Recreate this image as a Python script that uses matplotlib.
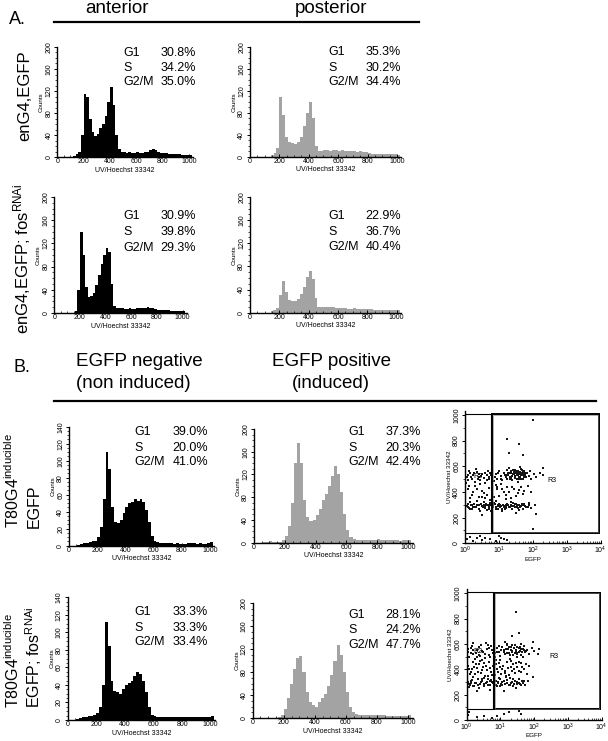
import numpy as np
import matplotlib
matplotlib.use("Agg")
import matplotlib.pyplot as plt
from matplotlib.ticker import MultipleLocator, LogLocator, NullFormatter
from matplotlib.patches import Rectangle
from matplotlib.lines import Line2D

plt.rcParams['font.family'] = ['Liberation Sans', 'DejaVu Sans']
plt.rcParams['mathtext.fontset'] = 'custom'
plt.rcParams['mathtext.rm'] = 'Liberation Sans'
plt.rcParams['mathtext.it'] = 'Liberation Sans:italic'
plt.rcParams['mathtext.bf'] = 'Liberation Sans:bold'

W, H = 608, 741
BIN = 20  # histogram channel width (UV/Hoechst units)

# ---- histogram counts, 20-channel bins starting at 0 ----
ant_egfp = [0, 0, 0, 0, 0, 0, 2, 6, 10, 40,
            115, 110, 70, 45, 38, 42, 52, 60, 75, 100,
            128, 95, 40, 14, 10, 9, 8, 9, 8, 8,
            9, 8, 8, 9, 10, 12, 14, 12, 10, 8,
            7, 7, 6, 6, 5, 5, 5, 4, 4, 4,
            3, 0]
post_egfp = [0, 0, 0, 0, 0, 0, 0, 4, 6, 15,
             108, 75, 35, 27, 25, 24, 26, 35, 55, 80,
             100, 70, 20, 10, 10, 12, 12, 11, 12, 12,
             11, 12, 11, 10, 10, 10, 9, 10, 9, 8,
             6, 5, 5, 5, 5, 5, 5, 5, 5, 5,
             4, 0]
ant_fos = [0, 0, 0, 0, 0, 0, 0, 0, 3, 40,
           140, 100, 45, 28, 30, 35, 48, 65, 85, 100,
           112, 105, 50, 12, 9, 8, 8, 7, 7, 8,
           7, 7, 8, 8, 8, 9, 10, 9, 8, 7,
           6, 6, 5, 5, 5, 4, 4, 4, 4, 4,
           3, 0]
post_fos = [0, 0, 0, 0, 0, 0, 0, 3, 4, 8,
            30, 54, 35, 22, 20, 20, 24, 32, 45, 62,
            72, 58, 25, 10, 9, 9, 9, 9, 9, 8,
            8, 8, 8, 7, 7, 8, 7, 7, 7, 6,
            6, 6, 5, 5, 5, 5, 5, 5, 5, 5,
            4, 0]
t80_neg = [0, 0, 0, 1, 2, 3, 3, 4, 5, 6,
           10, 22, 55, 110, 90, 45, 28, 27, 30, 38,
           45, 50, 52, 55, 53, 55, 52, 42, 28, 12,
           5, 4, 3, 3, 3, 3, 3, 2, 3, 2,
           2, 2, 3, 3, 3, 2, 3, 2, 2, 3,
           4, 0]
t80_pos = [0, 0, 0, 1, 2, 3, 1, 1, 2, 5,
           12, 30, 70, 140, 175, 140, 75, 45, 38, 40,
           48, 60, 75, 85, 100, 118, 135, 120, 90, 50,
           22, 10, 6, 5, 5, 4, 5, 4, 4, 5,
           6, 4, 4, 4, 4, 4, 4, 3, 4, 4,
           4, 0]
t80fos_neg = [0, 0, 0, 1, 2, 3, 3, 4, 4, 6,
              8, 15, 40, 112, 85, 45, 33, 32, 30, 35,
              40, 42, 45, 50, 55, 52, 45, 32, 15, 6,
              4, 3, 3, 3, 3, 3, 3, 3, 3, 3,
              3, 3, 3, 3, 3, 3, 3, 3, 3, 3,
              5, 0]
t80fos_pos = [0, 0, 0, 0, 0, 0, 0, 0, 2, 6,
              15, 35, 60, 85, 105, 108, 80, 45, 28, 22,
              20, 28, 35, 42, 55, 75, 100, 127, 110, 80,
              45, 20, 10, 7, 6, 6, 6, 5, 5, 5,
              5, 5, 5, 4, 4, 4, 4, 4, 4, 4,
              5, 0]

# ---- cell-cycle percentages ----
phases = ['G1', 'S', 'G2/M']
pct_ant_egfp = ['30.8%', '34.2%', '35.0%']
pct_post_egfp = ['35.3%', '30.2%', '34.4%']
pct_ant_fos = ['30.9%', '39.8%', '29.3%']
pct_post_fos = ['22.9%', '36.7%', '40.4%']
pct_t80_neg = ['39.0%', '20.0%', '41.0%']
pct_t80_pos = ['37.3%', '20.3%', '42.4%']
pct_t80fos_neg = ['33.3%', '33.3%', '33.4%']
pct_t80fos_pos = ['28.1%', '24.2%', '47.7%']

# ---- dot plots: (log10 EGFP, UV/Hoechst) ----
dots_t80 = [
    # G1 band
    (0.05, 290), (0.12, 275), (0.18, 300), (0.22, 265), (0.28, 310), (0.33, 285), (0.38, 295),
    (0.42, 270), (0.47, 305), (0.52, 280), (0.55, 320), (0.6, 290), (0.64, 262), (0.68, 300),
    (0.72, 285), (0.75, 315), (0.8, 275), (0.84, 295), (0.88, 305), (0.92, 270), (0.96, 290),
    (1.0, 310), (1.04, 280), (1.08, 265), (1.12, 300), (1.16, 288), (1.2, 275), (1.24, 310),
    (1.28, 295), (1.32, 280), (1.36, 300), (1.4, 270), (1.44, 290), (1.48, 305), (1.52, 285),
    (1.56, 275), (1.6, 300), (1.65, 290), (1.7, 270), (1.75, 310), (1.8, 285), (1.88, 295),
    (1.95, 275), (2.05, 300), (0.15, 320), (0.45, 255), (0.9, 330), (1.35, 325), (1.1, 250),
    (0.25, 285), (0.62, 310), (0.98, 265), (1.42, 315), (1.58, 260), (1.72, 295), (0.35, 330),
    (0.08, 305), (0.78, 255), (1.22, 292), (1.9, 315),
    (0.1, 285), (0.2, 295), (0.3, 280), (0.4, 300), (0.5, 290), (0.58, 275), (0.66, 295),
    (0.74, 300), (0.82, 285), (0.9, 280), (0.98, 300), (1.06, 290), (1.14, 280), (1.22, 300),
    (1.3, 285), (1.38, 290), (1.46, 280), (1.54, 295), (1.62, 285), (1.68, 305), (1.78, 290),
    (1.85, 280), (0.15, 270), (0.55, 300), (0.85, 315), (1.18, 270), (1.5, 310), (0.36, 300),
    (0.7, 270), (1.02, 295),
    # G2/M band
    (0.05, 520), (0.1, 490), (0.15, 545), (0.2, 505), (0.25, 530), (0.3, 480), (0.35, 555),
    (0.4, 515), (0.45, 495), (0.5, 540), (0.55, 510), (0.6, 470), (0.65, 530), (0.7, 500),
    (0.75, 550), (0.8, 520), (0.85, 485), (0.9, 540), (0.95, 505), (1.0, 560), (1.05, 525),
    (1.1, 495), (1.15, 545), (1.2, 515), (1.25, 570), (1.28, 535), (1.32, 505), (1.35, 550),
    (1.38, 525), (1.42, 575), (1.45, 540), (1.48, 510), (1.5, 555), (1.53, 530), (1.56, 565),
    (1.58, 500), (1.6, 545), (1.63, 520), (1.65, 580), (1.68, 550), (1.7, 530), (1.72, 505),
    (1.75, 560), (1.78, 540), (1.8, 515), (1.84, 550), (1.88, 525), (1.92, 560), (1.96, 500),
    (2.02, 540), (2.1, 520), (2.2, 545), (2.3, 530), (1.4, 490), (1.55, 480), (1.3, 585),
    (1.62, 595), (0.02, 470), (0.32, 580), (0.68, 565),
    (1.22, 530), (1.27, 550), (1.33, 520), (1.37, 565), (1.41, 540), (1.44, 555), (1.47, 525),
    (1.51, 545), (1.54, 560), (1.57, 535), (1.61, 555), (1.64, 530), (1.67, 545), (1.71, 560),
    (1.74, 520), (1.77, 550), (1.3, 545), (1.46, 570), (1.59, 515), (1.69, 575), (1.36, 510),
    (1.52, 500), (1.62, 540), (1.76, 530), (1.82, 545), (1.25, 500), (1.4, 525), (1.55, 550),
    (1.66, 505), (1.73, 545),
    (0.08, 535), (0.18, 515), (0.27, 550), (0.38, 500), (0.48, 525), (0.58, 545), (0.66, 495),
    (0.77, 535), (0.87, 515), (0.97, 550), (1.07, 505), (1.17, 530), (0.12, 560), (0.42, 540),
    (0.72, 520),
    # S phase / between
    (0.1, 420), (0.2, 380), (0.3, 445), (0.4, 360), (0.5, 410), (0.6, 350), (0.7, 430),
    (0.8, 390), (0.9, 455), (1.0, 370), (1.1, 420), (1.2, 345), (1.3, 400), (1.4, 440),
    (1.5, 365), (1.6, 415), (1.7, 385), (1.85, 450), (1.95, 400), (0.15, 350), (0.45, 465),
    (0.75, 340), (1.05, 460), (1.35, 355), (0.55, 390), (0.95, 425), (1.25, 440), (1.55, 395),
    (0.85, 360), (0.25, 400),
    (0.12, 450), (0.35, 420), (0.65, 380), (0.95, 440), (1.15, 400), (1.45, 420), (1.65, 440),
    (1.75, 410), (0.5, 360), (1.2, 380),
    # outliers and debris
    (2.0, 960), (1.25, 810), (1.6, 775), (1.3, 700), (1.7, 690), (2.3, 585), (2.1, 230),
    (0.5, 220), (1.5, 235),
    (0.05, 30), (0.15, 50), (0.25, 20), (0.35, 40), (0.5, 25), (0.6, 45), (0.75, 35),
    (0.9, 20), (1.05, 40), (1.15, 30), (1.25, 25), (0.45, 55), (1.0, 55), (2.0, 110),
]
dots_t80fos = [
    # G1 band
    (0.03, 300), (0.1, 280), (0.16, 315), (0.22, 270), (0.28, 295), (0.34, 325), (0.4, 285),
    (0.46, 305), (0.52, 265), (0.58, 290), (0.64, 320), (0.7, 280), (0.76, 300), (0.82, 270),
    (0.88, 310), (0.94, 290), (1.0, 265), (1.06, 300), (1.12, 285), (1.18, 315), (1.24, 275),
    (1.3, 295), (1.36, 265), (1.42, 305), (1.48, 285), (1.54, 320), (1.6, 275), (1.66, 295),
    (1.74, 280), (1.82, 305), (0.2, 340), (0.5, 330), (0.8, 250), (1.15, 340), (1.45, 255),
    (0.07, 260), (0.37, 255), (0.95, 335), (1.27, 330), (1.7, 310), (0.6, 300), (0.13, 290),
    (1.05, 280), (1.55, 290), (0.72, 315),
    (0.06, 285), (0.14, 305), (0.24, 290), (0.32, 275), (0.42, 300), (0.5, 285), (0.62, 280),
    (0.68, 305), (0.78, 290), (0.86, 280), (0.92, 300), (1.02, 285), (1.1, 305), (1.2, 290),
    (1.28, 280), (1.34, 300), (1.4, 285), (1.5, 300), (1.58, 285), (1.64, 310), (0.45, 320),
    (0.98, 320), (1.38, 320), (0.2, 265), (0.9, 265),
    # G2/M band
    (0.03, 540), (0.08, 500), (0.14, 570), (0.2, 520), (0.25, 480), (0.3, 555), (0.36, 510),
    (0.42, 590), (0.48, 535), (0.54, 490), (0.6, 560), (0.66, 515), (0.72, 585), (0.78, 530),
    (0.84, 495), (0.9, 565), (0.96, 540), (1.0, 505), (1.05, 580), (1.1, 550), (1.14, 520),
    (1.18, 600), (1.22, 560), (1.26, 530), (1.3, 575), (1.34, 545), (1.38, 510), (1.42, 590),
    (1.46, 555), (1.5, 530), (1.54, 570), (1.58, 545), (1.62, 515), (1.66, 560), (1.7, 585),
    (1.74, 535), (1.8, 555), (1.86, 520), (1.92, 570), (0.18, 605), (0.58, 610), (1.12, 615),
    (1.6, 600), (0.45, 470), (0.88, 475), (1.28, 480), (1.48, 495), (1.68, 500), (2.0, 545),
    (2.1, 520),
    (1.1, 540), (1.15, 560), (1.2, 530), (1.25, 575), (1.3, 550), (1.35, 535), (1.4, 565),
    (1.45, 545), (1.5, 580), (1.55, 540), (1.6, 560), (1.65, 535), (1.7, 555), (1.75, 545),
    (1.2, 590), (1.35, 595), (1.5, 520), (1.28, 515), (1.42, 525), (1.58, 575),
    (0.05, 560), (0.12, 525), (0.2, 550), (0.28, 530), (0.35, 575), (0.45, 545), (0.55, 520),
    (0.65, 570), (0.75, 550), (0.85, 525), (0.95, 585), (1.02, 555), (0.4, 505), (0.7, 500),
    (0.15, 585), (0.3, 500), (0.62, 595), (0.9, 540),
    # S phase / between
    (0.05, 430), (0.12, 380), (0.18, 455), (0.24, 360), (0.3, 410), (0.36, 445), (0.42, 370),
    (0.48, 420), (0.54, 350), (0.6, 395), (0.66, 460), (0.72, 375), (0.78, 430), (0.84, 355),
    (0.9, 405), (0.96, 450), (1.02, 365), (1.08, 425), (1.14, 390), (1.2, 460), (1.26, 355),
    (1.32, 415), (1.38, 440), (1.44, 370), (1.5, 420), (1.56, 385), (1.62, 450), (1.7, 400),
    (1.78, 360), (1.85, 430), (0.15, 400), (0.39, 465), (0.63, 345), (0.93, 375), (1.17, 345),
    (1.41, 400), (0.27, 440), (0.81, 460), (1.05, 400), (1.65, 420),
    (0.08, 400), (0.22, 420), (0.33, 380), (0.45, 395), (0.57, 430), (0.7, 410), (0.87, 440),
    (1.0, 420), (1.12, 370), (1.23, 410), (1.35, 385), (1.47, 450), (1.6, 380), (1.75, 440),
    (0.1, 360), (0.5, 450), (0.98, 470), (1.3, 465), (0.75, 355), (1.55, 460),
    # outliers and debris
    (1.45, 850), (1.55, 690), (1.35, 660), (1.95, 615), (2.15, 560), (1.95, 340), (0.3, 225),
    (1.1, 230), (0.7, 240),
    (0.03, 40), (0.08, 60), (0.3, 20), (0.5, 35), (0.9, 30), (1.1, 45), (1.25, 60),
    (0.75, 15), (1.55, 70), (1.6, 45),
]

BLACK = '#000000'
GRAY = '#a3a3a3'

fig = plt.figure(figsize=(W / 100, H / 100), dpi=100)


def rect_from_px(xa, xb, pxa, pxb, ya, yb, pya, pyb, xlim, ylim, xlog=False):
    f = np.log10 if xlog else (lambda v: v)
    sx = (pxb - pxa) / (f(xb) - f(xa))
    left = pxa + (f(xlim[0]) - f(xa)) * sx
    right = pxa + (f(xlim[1]) - f(xa)) * sx
    sy = (pyb - pya) / (yb - ya)
    top = pya + (ylim[1] - ya) * sy
    bottom = pya + (ylim[0] - ya) * sy
    return [left / W, 1 - bottom / H, (right - left) / W, (bottom - top) / H]


def style_axes(ax):
    for s in ['top', 'right']:
        ax.spines[s].set_visible(False)
    for s in ['left', 'bottom']:
        ax.spines[s].set_linewidth(1.0)
    ax.tick_params(axis='both', which='major', labelsize=5, width=0.7, length=2.5, pad=1)
    ax.tick_params(axis='both', which='minor', width=0.5, length=1.3)
    ax.tick_params(axis='x', which='both', direction='in')
    ax.tick_params(axis='y', which='both', direction='out')
    for lab in ax.get_yticklabels():
        lab.set_rotation(90)
        lab.set_va('center')


def hist_panel(counts, color, px, ymax, ystep, yminor, pcts, stat_px):
    x0, x1000, y0, ytop = px
    ax = fig.add_axes(rect_from_px(0, 1000, x0, x1000, 0, ymax, y0, ytop,
                                   (0, 1030), (0, ymax)))
    edges = np.arange(len(counts) + 1) * BIN
    ax.stairs(counts, edges, fill=True, color=color, lw=0)
    ax.set_xlim(0, 1030)
    ax.set_ylim(0, ymax)
    ax.set_xticks(range(0, 1001, 200))
    ax.xaxis.set_minor_locator(MultipleLocator(50))
    ax.set_yticks(range(0, ymax + 1, ystep))
    ax.yaxis.set_minor_locator(MultipleLocator(yminor))
    ax.set_xlabel('UV/Hoechst 33342', fontsize=5, labelpad=1)
    ax.set_ylabel('Counts', fontsize=4.5, labelpad=1)
    style_axes(ax)
    lx, rx, rows = stat_px
    for ph, pc, yy in zip(phases, pcts, rows):
        fig.text(lx / W, 1 - yy / H, ph, fontsize=9, ha='left', va='center')
        fig.text(rx / W, 1 - yy / H, pc, fontsize=9, ha='right', va='center')
    return ax


def dot_panel(dots, px, r2_lab, r3_lab):
    xe0, xe4, y0, y1000 = px
    ax = fig.add_axes(rect_from_px(1, 1e4, xe0, xe4, 0, 1000, y0, y1000,
                                   (1, 1e4), (0, 1030), xlog=True))
    lx = np.array([d[0] for d in dots])
    hy = np.array([d[1] for d in dots])
    ax.scatter(10 ** lx, hy, s=0.7, marker='s', color='#151515', linewidths=0)
    ax.set_xscale('log')
    ax.set_xlim(1, 1e4)
    ax.set_ylim(0, 1030)
    ax.set_xticks([1, 10, 100, 1000, 10000])
    ax.set_xticklabels([r'$10^{0}$', r'$10^{1}$', r'$10^{2}$', r'$10^{3}$', r'$10^{4}$'])
    ax.xaxis.set_minor_locator(LogLocator(base=10, subs=np.arange(2, 10)))
    ax.xaxis.set_minor_formatter(NullFormatter())
    ax.set_yticks(range(0, 1001, 200))
    ax.yaxis.set_minor_locator(MultipleLocator(100))
    ax.set_xlabel('EGFP', fontsize=4.5, labelpad=0.5)
    ax.set_ylabel('UV/Hoechst 33342', fontsize=4.5, labelpad=1)
    style_axes(ax)
    # gates
    ax.add_patch(Rectangle((1, 83), 6.0 - 1, 1008 - 83, fill=False, ec='black', lw=0.8))
    ax.add_patch(Rectangle((6.3, 83), 9000 - 6.3, 1005 - 83, fill=False, ec='black', lw=1.4))
    ax.add_patch(Rectangle((6.8, 90), 8500 - 6.8, 1000 - 90, fill=False, ec='#777777', lw=0.4))
    ax.text(10 ** r2_lab[0], r2_lab[1], 'R2', fontsize=5, ha='center', va='center')
    ax.text(10 ** r3_lab[0], r3_lab[1], 'R3', fontsize=5, ha='center', va='center')
    return ax


# ---- panel A ----
hist_panel(ant_egfp, BLACK, (57.3, 189, 157, 47), 200, 40, 10, pct_ant_egfp,
           (123.3, 196, (52.7, 68.3, 82)))
hist_panel(post_egfp, GRAY, (250, 397, 156.7, 46.7), 200, 40, 10, pct_post_egfp,
           (328.3, 401, (52.3, 68, 82)))
hist_panel(ant_fos, BLACK, (54.3, 182.7, 313, 197), 200, 40, 10, pct_ant_fos,
           (123.3, 196, (216, 232.3, 247.7)))
hist_panel(post_fos, GRAY, (250, 396.7, 312.7, 197), 200, 40, 10, pct_post_fos,
           (328.3, 401, (216, 232, 247)))

# ---- panel B ----
hist_panel(t80_neg, BLACK, (69, 210, 545.7, 426.7), 140, 20, 5, pct_t80_neg,
           (134, 208, (432.3, 447.7, 461.7)))
hist_panel(t80_pos, GRAY, (254, 408, 542.7, 429), 200, 40, 10, pct_t80_pos,
           (348.3, 421, (432.3, 447.7, 462)))
dot_panel(dots_t80, (465, 600.7, 543.3, 415), (0.38, 524), (2.56, 493))
hist_panel(t80fos_neg, BLACK, (67.7, 210.7, 720, 597.3), 140, 20, 5, pct_t80fos_neg,
           (134, 208, (612.3, 627.7, 641.7)))
hist_panel(t80fos_pos, GRAY, (252.7, 408, 718, 603), 200, 40, 10, pct_t80fos_pos,
           (348.3, 421, (615, 630, 645)))
dot_panel(dots_t80fos, (466.7, 601.7, 720, 593.3), (0.32, 539), (2.57, 500))


def ftext(x, y, s, **kw):
    fig.text(x / W, 1 - y / H, s, **kw)


def hline(x0, x1, y, lw=1.6):
    fig.add_artist(Line2D([x0 / W, x1 / W], [1 - y / H, 1 - y / H], lw=lw, color='black'))


# headers
ftext(17, 19, 'A.', fontsize=13, ha='center', va='center')
ftext(117, 8.5, 'anterior', fontsize=13.5, ha='center', va='center')
ftext(331, 8.5, 'posterior', fontsize=13.5, ha='center', va='center')
hline(54.3, 419.3, 21.7)

ftext(22, 368, 'B.', fontsize=13, ha='center', va='center')
ftext(139, 361, 'EGFP negative', fontsize=13.5, ha='center', va='center')
ftext(133.5, 384, '(non induced)', fontsize=13.5, ha='center', va='center')
ftext(331, 361, 'EGFP positive', fontsize=13.5, ha='center', va='center')
ftext(331, 384, '(induced)', fontsize=13.5, ha='center', va='center')
hline(54.3, 596, 400.7)

# row labels
ftext(25, 96, 'enG4,EGFP', fontsize=12, rotation=90, ha='center', va='center')
ftext(22, 259, r'enG4,EGFP; fos$^{\mathrm{RNAi}}$', fontsize=12, rotation=90,
      ha='center', va='center')
ftext(13, 528, r'T80G4$^{\mathrm{inducible}}$', fontsize=11.5, rotation=90,
      ha='center', va='bottom')
ftext(34, 528, 'EGFP', fontsize=11.5, rotation=90, ha='center', va='bottom')
ftext(13, 708, r'T80G4$^{\mathrm{inducible}}$', fontsize=11.5, rotation=90,
      ha='center', va='bottom')
ftext(34, 708, r'EGFP; fos$^{\mathrm{RNAi}}$', fontsize=11.5, rotation=90,
      ha='center', va='bottom')

fig.savefig('out.png', dpi=100)
